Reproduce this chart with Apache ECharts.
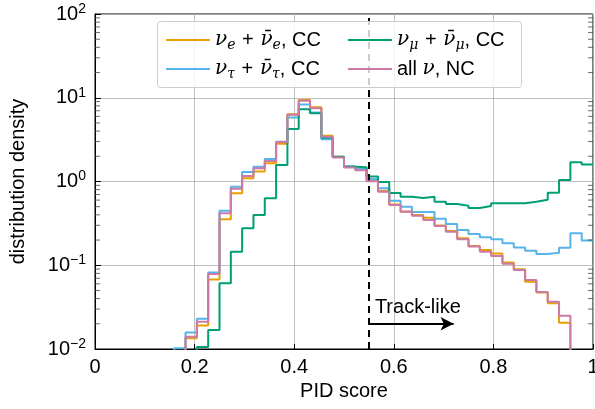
<!DOCTYPE html>
<html>
<head>
<meta charset="utf-8">
<title>PID score</title>
<style>
  html, body { margin: 0; padding: 0; background: #fff; }
  #chart { width: 595px; height: 409px; }
</style>
</head>
<body>
<div id="chart"></div>
<script src="https://cdn.jsdelivr.net/npm/echarts@6/dist/echarts.min.js"></script>
<script>
  // 44 equal bins on [0, 1] (null = empty bin)
  var nBins = 44;
  var nue = [null, null, null, null, null, null, null, null,
    0.0134, 0.0191, 0.0676, 0.354, 0.723, 1.09, 1.32, 1.65, 2.83, 6.35, 9.40, 7.69,
    3.52, 1.98, 1.49, 1.37, 1.03, 0.776, 0.531, 0.438, 0.398, 0.370, 0.298, 0.257,
    0.210, 0.170, 0.152, 0.138, 0.108, 0.0895, 0.0637, 0.0473, 0.0351, 0.0206, null, null];
  var nutau = [null, null, null, null, null, null, null, 0.0102,
    0.0157, 0.0230, 0.082, 0.448, 0.867, 1.30, 1.50, 1.86, 2.99, 5.81, 8.31, 6.67,
    3.19, 1.96, 1.52, 1.41, 1.07, 0.829, 0.590, 0.500, 0.432, 0.432, 0.360, 0.311,
    0.264, 0.236, 0.216, 0.204, 0.183, 0.163, 0.149, 0.136, 0.141, 0.162, 0.241, 0.197];
  var numu = [null, null, null, null, null, null, null, null,
    null, 0.0106, 0.0169, 0.0609, 0.145, 0.276, 0.398, 0.630, 1.57, 4.24, 7.28, 6.52,
    3.33, 1.98, 1.50, 1.48, 1.15, 0.986, 0.729, 0.658, 0.635, 0.658, 0.574, 0.539,
    0.514, 0.483, 0.510, 0.549, 0.549, 0.549, 0.574, 0.606, 0.735, 1.04, 1.70, 1.60];
  var nc = [null, null, null, null, null, null, null, null,
    0.0140, 0.0212, 0.0786, 0.417, 0.82, 1.16, 1.44, 1.76, 2.96, 6.28, 9.22, 7.48,
    3.43, 1.93, 1.47, 1.36, 1.01, 0.755, 0.524, 0.436, 0.390, 0.347, 0.294, 0.252,
    0.204, 0.167, 0.145, 0.129, 0.104, 0.0878, 0.0667, 0.0479, 0.0367, 0.025, null, null];

  var seriesNames = ['nue', 'nutau', 'numu', 'nc'];
  var seriesColors = ['#E69F00', '#56B4E9', '#009E73', '#CC79A7'];
  var legendLabels = {
    nue: '{nu|ν}{sub|e}\u2004+\u2004{nu|ν̄}{sub|e}, CC',
    numu: '{nu|ν}{sub|μ}\u2004+\u2004{nu|ν̄}{sub|μ}, CC',
    nutau: '{nu|ν}{sub|τ}\u2004+\u2004{nu|ν̄}{sub|τ}, CC',
    nc: 'all {nu|ν}, NC'
  };
  var xTicks = [0, 0.2, 0.4, 0.6, 0.8, 1];
  var cutValue = 0.55;

  // minor ticks of the log axis (2..9 x 10^k)
  var minorTicks = [];
  for (var k = -2; k < 2; k++) {
    for (var m = 2; m <= 9; m++) minorTicks.push([0, m * Math.pow(10, k)]);
  }

  // histogram -> step outline
  function stepPoints(vals) {
    var pts = [];
    var floor = 1e-4;
    for (var i = 0; i < vals.length; i++) {
      var v = vals[i];
      if (v == null) continue;
      var lo = i / nBins, hi = (i + 1) / nBins;
      if (i === 0 || vals[i - 1] == null) pts.push([lo, floor]);
      pts.push([lo, v], [hi, v]);
      if (i + 1 < vals.length && vals[i + 1] == null) pts.push([hi, floor]);
    }
    return pts;
  }

  var valueMap = { nue: nue, nutau: nutau, numu: numu, nc: nc };
  var series = seriesNames.map(function (name, idx) {
    return {
      name: name,
      type: 'line',
      data: stepPoints(valueMap[name]),
      symbol: 'none',
      clip: true,
      z: 2 + idx,
      lineStyle: { width: 2, color: seriesColors[idx] },
      itemStyle: { color: seriesColors[idx] }
    };
  });

  // dashed cut line + "Track-like" arrow
  series[3].markLine = {
    silent: true,
    animation: false,
    symbol: 'none',
    data: [
      { xAxis: cutValue, lineStyle: { type: [7, 5], color: '#000', width: 2 }, label: { show: false } },
      [
        { coord: [cutValue, 0.02], symbol: 'none' },
        { coord: [0.72, 0.02], symbol: 'arrow', symbolSize: [10, 13] }
      ]
    ],
    lineStyle: { color: '#000', width: 2, type: 'solid' },
    label: {
      show: true, position: 'insideStartTop', formatter: 'Track-like',
      color: '#000', fontSize: 20, distance: 6, fontFamily: 'Liberation Sans'
    }
  };

  series.push({
    type: 'custom',
    silent: true,
    clip: false,
    z: 10,
    data: minorTicks,
    renderItem: function (params, api) {
      var y = api.coord([0, api.value(1)])[1];
      var cs = params.coordSys;
      var st = { stroke: '#444', lineWidth: 0.8 };
      return {
        type: 'group',
        children: [
          { type: 'line', shape: { x1: cs.x, y1: y, x2: cs.x + 5, y2: y }, style: st },
          { type: 'line', shape: { x1: cs.x + cs.width - 5, y1: y, x2: cs.x + cs.width, y2: y }, style: st }
        ]
      };
    }
  });

  var legendRich = {
    nu: { fontFamily: 'DejaVu Serif', fontStyle: 'italic', fontSize: 20, lineHeight: 24 },
    sub: { fontFamily: 'DejaVu Serif', fontStyle: 'italic', fontSize: 14, lineHeight: 13, verticalAlign: 'bottom' }
  };
  var legendSlots = [['nue', 165, 28], ['numu', 347, 28], ['nutau', 165, 57], ['nc', 347, 57]];
  var legends = legendSlots.map(function (s) {
    return {
      data: [s[0]],
      left: s[1],
      top: s[2],
      padding: 0,
      itemWidth: 44,
      itemHeight: 14,
      z: 8,
      itemStyle: { opacity: 0, borderWidth: 0 },
      lineStyle: { width: 2 },
      formatter: function (name) { return legendLabels[name]; },
      textStyle: { fontSize: 20, color: '#000', lineHeight: 24, fontFamily: 'Liberation Sans', rich: legendRich }
    };
  });

  var chart = echarts.init(document.getElementById('chart'));
  var option = {
    animation: false,
    backgroundColor: '#fff',
    textStyle: { fontFamily: 'Liberation Sans' },
    grid: {
      left: 95, right: 2, top: 14, bottom: 60,
      show: true, borderColor: '#000', borderWidth: 1,
      outerBoundsMode: 'none'
    },
    graphic: [{
      type: 'rect',
      z: 7,
      shape: { x: 157.5, y: 21.5, width: 364, height: 66, r: 3 },
      style: { fill: 'rgba(255,255,255,0.8)', stroke: '#cccccc', lineWidth: 1 }
    }],
    legend: legends,
    xAxis: {
      type: 'value',
      min: 0, max: 1, interval: 0.2,
      name: 'PID score',
      nameLocation: 'middle',
      nameGap: 32,
      nameTextStyle: { fontSize: 20, color: '#000' },
      axisLine: { lineStyle: { color: '#000', width: 1 } },
      axisTick: { inside: true, length: 5, lineStyle: { color: '#000' } },
      axisLabel: {
        fontSize: 20, color: '#000', margin: 8,
        formatter: function (v) { return xTicks.indexOf(v) >= 0 ? String(v) : ''; }
      },
      splitLine: { show: true, lineStyle: { color: '#b0b0b0', width: 0.8 } }
    },
    yAxis: {
      type: 'log',
      logBase: 10,
      min: 0.01, max: 100,
      name: 'distribution density',
      nameLocation: 'middle',
      nameGap: 67,
      nameTextStyle: { fontSize: 20, color: '#000' },
      axisLine: { show: true, lineStyle: { color: '#000', width: 1 } },
      axisTick: { inside: true, length: 6, lineStyle: { color: '#000' } },
      axisLabel: {
        fontSize: 20, color: '#000', margin: 9, lineHeight: 24,
        formatter: function (v) {
          var e = Math.round(Math.log10(v));
          return '10{sup|' + (e < 0 ? '\u2212' + (-e) : e) + '}';
        },
        rich: {
          sup: { fontSize: 14, lineHeight: 14, verticalAlign: 'top', color: '#000' }
        }
      },
      splitLine: { show: true, lineStyle: { color: '#b0b0b0', width: 0.8 } }
    },
    series: series
  };
  chart.setOption(option);
</script>
</body>
</html>
